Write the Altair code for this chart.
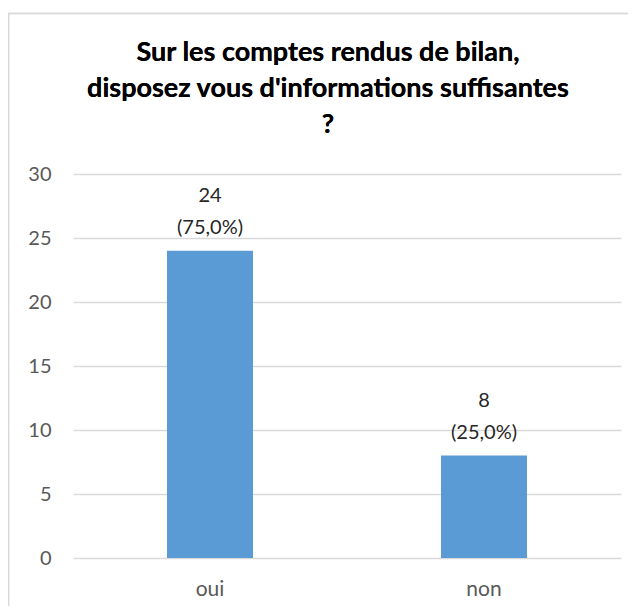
import altair as alt
import pandas as pd

categories = ["oui", "non"]
counts = [24, 8]
percents = ["75,0%", "25,0%"]
title_lines = ["Sur les comptes rendus de bilan,", "disposez vous d'informations suffisantes", "?"]

df = pd.DataFrame({
    "cat": categories,
    "n": counts,
    "label": [f"{c}\n({p})" for c, p in zip(counts, percents)],
})

FONT = "Lato"

x = alt.X("cat:N", sort=categories, title=None,
          scale=alt.Scale(paddingInner=0, paddingOuter=0),
          axis=alt.Axis(labelAngle=0, ticks=False, domain=False, labelPadding=20,
                        labelFontSize=21, labelColor="#595959", labelFont=FONT))
y = alt.Y("n:Q", title=None,
          scale=alt.Scale(domain=[0, 30]),
          axis=alt.Axis(values=[0, 5, 10, 15, 20, 25, 30], ticks=False, domain=False,
                        labelPadding=22, labelFontSize=20, labelColor="#595959",
                        labelFont=FONT, gridColor="#d9d9d9", gridWidth=1.5))

border = alt.Chart(df).mark_rect(fill=None, stroke="#d9d9d9", strokeWidth=1.5).encode(
    x=alt.value(-64.5), x2=alt.value(600), y=alt.value(-160.5), y2=alt.value(500)
)

title = alt.Chart(df).mark_text(
    font=FONT, fontSize=27, fontWeight="bold", color="#000000", align="center",
    baseline="alphabetic", lineBreak="\n", lineHeight=36
).encode(x=alt.value(255), y=alt.value(-113), text=alt.value("\n".join(title_lines)))

bars = alt.Chart(df).mark_bar(color="#5b9bd5", width=alt.RelativeBandSize(86 / 548 * 2)).encode(x=x, y=y)

labels = alt.Chart(df).mark_text(
    baseline="alphabetic", dy=-49, fontSize=20, font=FONT, color="#262626", lineBreak="\n", lineHeight=32
).encode(x=x, y=y, text="label:N")

chart = alt.layer(border, title, bars, labels).properties(
    width=548, height=384,
    autosize=alt.AutoSizeParams(type="none"),
    padding={"left": 65, "top": 166, "right": 7, "bottom": 48},
).configure_view(stroke=None)

chart.save("out.html", embed_options={"renderer": "svg", "actions": False})
